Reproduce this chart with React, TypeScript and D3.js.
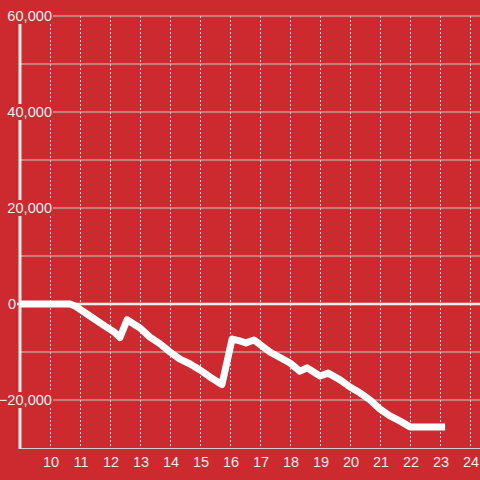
import React from "react";
import * as d3 from "d3";

const times = [9, 10.667, 10.83, 11.33, 11.83, 12.13, 12.33, 12.57, 12.8, 13, 13.33, 13.67, 14, 14.33, 14.67, 15, 15.33, 15.73, 16.07, 16.33, 16.53, 16.8, 17.33, 18, 18.33, 18.57, 19, 19.27, 19.67, 20, 20.33, 20.67, 21, 21.33, 21.67, 22, 23.17];
const values = [0, 0, -400, -2500, -4600, -5800, -7000, -3300, -4200, -5000, -6900, -8300, -10000, -11500, -12500, -13750, -15200, -16800, -7300, -7700, -8100, -7500, -10000, -12300, -14000, -13300, -15000, -14400, -15800, -17300, -18500, -20000, -21900, -23300, -24400, -25600, -25600];
const xTicks = [10, 11, 12, 13, 14, 15, 16, 17, 18, 19, 20, 21, 22, 23, 24];
const yGrid = [60000, 50000, 40000, 30000, 20000, 10000, 0, -10000, -20000];
const yLabels = [60000, 40000, 20000, 0, -20000];

const W = 480;
const H = 480;
const BG = "#cc2a2f";
const TXT = "#eeeeee";
const GRID = "#cccccc";

export default function App() {
  const x = d3.scaleLinear().domain([9, 24.3333]).range([20, 480]);
  const y = d3.scaleLinear().domain([-30000, 60000]).range([448, 16]);
  const fmt = d3.format(",");
  const pts = times.map((t, i) => [t, values[i]] as [number, number]);
  const line = d3
    .line<[number, number]>()
    .x((d) => x(d[0]))
    .y((d) => y(d[1]));

  return (
    <svg
      width={W}
      height={H}
      style={{ position: "fixed", left: 0, top: 0, fontFamily: "'Liberation Sans', Arial, sans-serif" }}
    >
      <rect x={0} y={0} width={W} height={H} fill={BG} />
      {yGrid.filter((v) => v !== 0).map((v) => (
        <line key={"g" + v} x1={x(9)} x2={W} y1={y(v)} y2={y(v)} stroke={GRID} strokeWidth={1} />
      ))}
      {xTicks.map((t) => (
        <line
          key={"v" + t}
          x1={x(t) + 0.5}
          x2={x(t) + 0.5}
          y1={y(60000)}
          y2={y(-30000) - 2}
          stroke={GRID}
          strokeWidth={1}
          strokeDasharray="2,2"
        />
      ))}
      <line x1={x(9)} x2={W} y1={y(-30000) + 0.5} y2={y(-30000) + 0.5} stroke={GRID} strokeWidth={1} />
      <line x1={x(9)} x2={x(9)} y1={y(60000)} y2={y(-30000) + 1} stroke={TXT} strokeWidth={3} />
      {yLabels.map((v) => {
        const endX = v === 0 ? 16 : 52;
        const w = v === 0 ? 11 : v < 0 ? 51 : 48;
        return (
          <g key={"yl" + v}>
            <rect x={endX - w} y={y(v) - 8} width={w + 1} height={16} fill={BG} />
            <text x={endX} y={y(v)} dy="0.35em" textAnchor="end" fontSize={14.6} fill={TXT}>
              {fmt(v)}
            </text>
          </g>
        );
      })}
      <line x1={17} x2={W} y1={y(0)} y2={y(0)} stroke={TXT} strokeWidth={2.5} />
      {xTicks.map((t) => (
        <text key={"xl" + t} x={x(t) + 1} y={462} dy="0.35em" textAnchor="middle" fontSize={14.5} fill={TXT}>
          {t}
        </text>
      ))}
      <path d={line(pts) || ""} fill="none" stroke="#ffffff" strokeWidth={7} strokeLinejoin="round" />
    </svg>
  );
}
